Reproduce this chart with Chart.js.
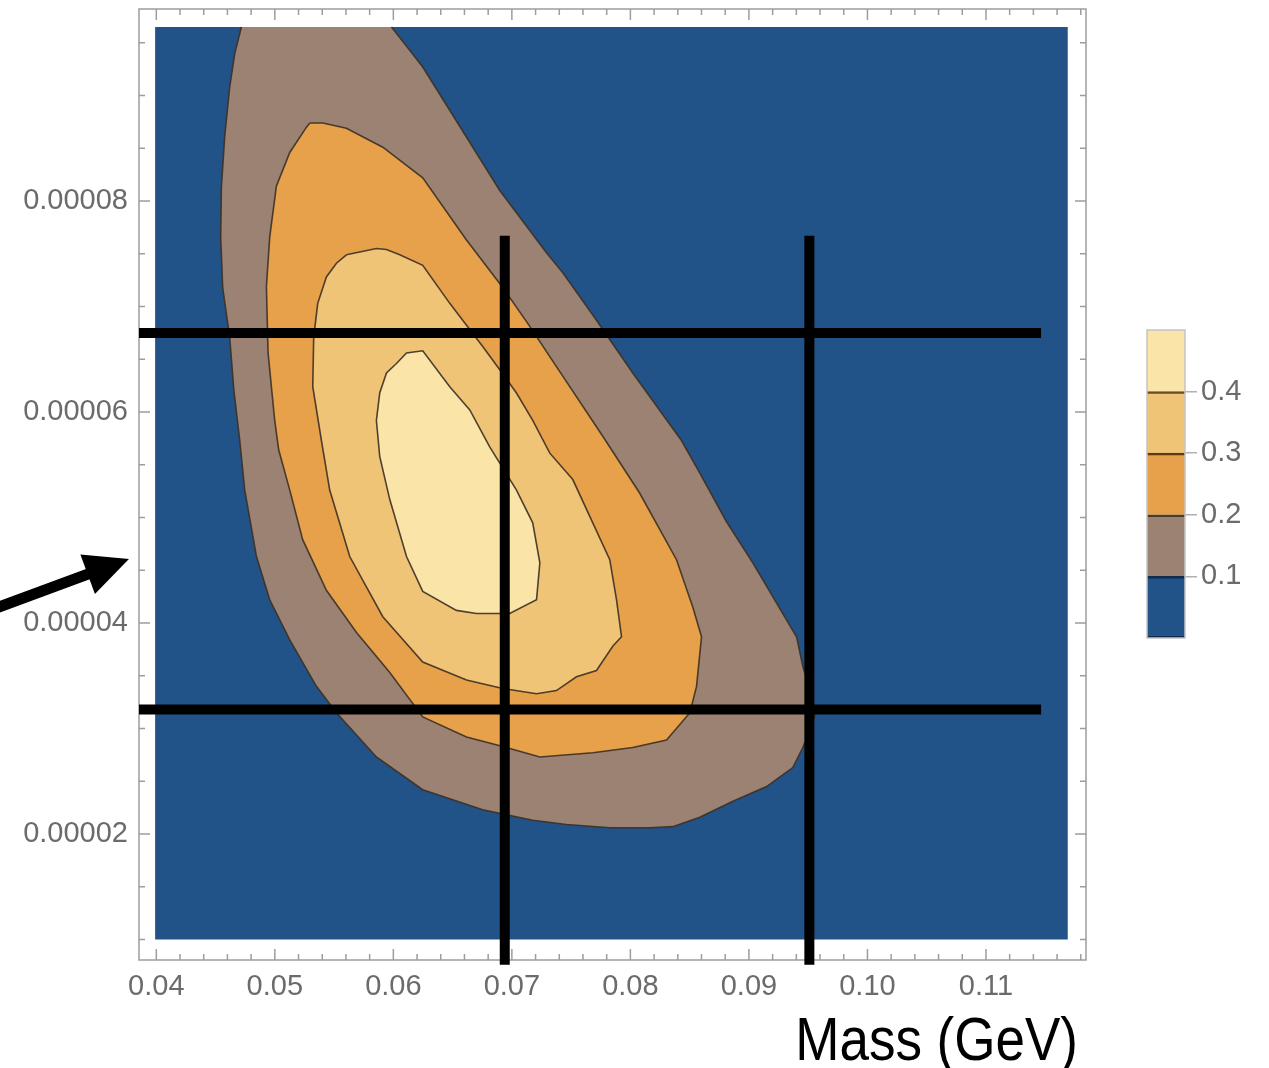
<!DOCTYPE html>
<html>
<head>
<meta charset="utf-8">
<script src="https://cdn.jsdelivr.net/npm/chart.js@4.4.1/dist/chart.umd.min.js"></script>
<style>
  html, body { margin: 0; padding: 0; background: #fff; }
  #wrap { position: relative; width: 1269px; height: 1068px; overflow: hidden; }
  #contourChart { position: absolute; left: 0; top: 0; }
  #colorBar { position: absolute; left: 1140px; top: 320px; }
</style>
</head>
<body>
<div id="wrap">
  <canvas id="contourChart" width="1269" height="1068"></canvas>
  <canvas id="colorBar" width="129" height="330"></canvas>
</div>
<script>
(function () {
    "use strict";

    // axes
    const xRange = [0.03854, 0.11844];
    const yRange = [0.00000806, 0.0000982];
    const xTicks = [0.04, 0.05, 0.06, 0.07, 0.08, 0.09, 0.10, 0.11];
    const xTickLabels = ["0.04", "0.05", "0.06", "0.07", "0.08", "0.09", "0.10", "0.11"];
    const yTicks = [0.00002, 0.00004, 0.00006, 0.00008];
    const yTickLabels = ["0.00002", "0.00004", "0.00006", "0.00008"];
    const xMinorStep = 0.002;
    const yMinorStep = 0.000005;

    // sampled region (band below 0.1)
    const regionX = [0.0399, 0.1169];
    const regionY = [0.00001, 0.0000965];

    // contour 0.1 (runs off the top of the region)
    const c1X = [0.04718, 0.04662, 0.04619, 0.04577, 0.04549, 0.04543, 0.04560, 0.04619, 0.04654, 0.04704, 0.04746, 0.04845,
        0.04957, 0.05126, 0.05351, 0.05520, 0.05857, 0.06248, 0.06754, 0.07176, 0.07461, 0.07826, 0.08164, 0.08358, 0.08586,
        0.08865, 0.09149, 0.09370, 0.09455, 0.09556, 0.09539, 0.09455, 0.09402, 0.09317, 0.09033, 0.08811, 0.08586, 0.08431,
        0.08020, 0.07714, 0.07430, 0.07292, 0.06898, 0.06248, 0.06054, 0.05984];
    const c1Y = [9.65e-5, 9.40e-5, 9.08e-5, 8.61e-5, 8.13e-5, 7.66e-5, 7.18e-5, 6.71e-5, 6.21e-5, 5.73e-5, 5.26e-5, 4.63e-5,
        4.22e-5, 3.84e-5, 3.40e-5, 3.15e-5, 2.73e-5, 2.42e-5, 2.23e-5, 2.13e-5, 2.09e-5, 2.06e-5, 2.06e-5, 2.07e-5, 2.16e-5,
        2.31e-5, 2.45e-5, 2.63e-5, 2.82e-5, 3.11e-5, 3.27e-5, 3.59e-5, 3.87e-5, 4.03e-5, 4.57e-5, 4.96e-5, 5.42e-5, 5.73e-5,
        6.37e-5, 6.87e-5, 7.32e-5, 7.51e-5, 8.10e-5, 9.27e-5, 9.55e-5, 9.65e-5];

    // contour 0.2
    const c2X = [0.05295, 0.05405, 0.05604, 0.05911, 0.06248, 0.06617, 0.06923, 0.07134, 0.07376, 0.07767, 0.08079, 0.08389,
        0.08527, 0.08600, 0.08558, 0.08502, 0.08305, 0.08020, 0.07683, 0.07236, 0.06923, 0.06617, 0.06248, 0.05970, 0.05689,
        0.05435, 0.05235, 0.05126, 0.05033, 0.04999, 0.04943, 0.04929, 0.04957, 0.05013, 0.05126, 0.05267];
    const c2Y = [8.74e-5, 8.74e-5, 8.69e-5, 8.51e-5, 8.22e-5, 7.63e-5, 7.18e-5, 6.84e-5, 6.43e-5, 5.77e-5, 5.23e-5, 4.60e-5,
        4.15e-5, 3.87e-5, 3.40e-5, 3.15e-5, 2.89e-5, 2.82e-5, 2.77e-5, 2.73e-5, 2.83e-5, 2.92e-5, 3.11e-5, 3.53e-5, 3.91e-5,
        4.31e-5, 4.79e-5, 5.26e-5, 5.64e-5, 5.92e-5, 6.56e-5, 7.19e-5, 7.66e-5, 8.14e-5, 8.46e-5, 8.70e-5];

    // contour 0.3
    const c3X = [0.05604, 0.05857, 0.05942, 0.06054, 0.06248, 0.06476, 0.06754, 0.06898, 0.07039, 0.07176, 0.07320, 0.07514,
        0.07826, 0.07883, 0.07925, 0.07851, 0.07714, 0.07545, 0.07376, 0.07208, 0.06923, 0.06617, 0.06248, 0.05911, 0.05632,
        0.05463, 0.05393, 0.05320, 0.05328, 0.05362, 0.05435, 0.05520];
    const c3Y = [7.49e-5, 7.55e-5, 7.54e-5, 7.49e-5, 7.39e-5, 7.03e-5, 6.62e-5, 6.40e-5, 6.18e-5, 5.92e-5, 5.61e-5, 5.36e-5,
        4.60e-5, 4.22e-5, 3.87e-5, 3.78e-5, 3.55e-5, 3.49e-5, 3.36e-5, 3.33e-5, 3.38e-5, 3.46e-5, 3.63e-5, 4.06e-5, 4.63e-5,
        5.26e-5, 5.73e-5, 6.24e-5, 6.71e-5, 7.03e-5, 7.28e-5, 7.41e-5];

    // contour 0.4
    const c4X = [0.06026, 0.06111, 0.06248, 0.06476, 0.06645, 0.06813, 0.07039, 0.07176, 0.07236, 0.07208, 0.06982, 0.06701,
        0.06532, 0.06248, 0.06111, 0.05970, 0.05885, 0.05857, 0.05885, 0.05942];
    const c4Y = [6.46e-5, 6.56e-5, 6.58e-5, 6.24e-5, 6.02e-5, 5.67e-5, 5.26e-5, 4.95e-5, 4.57e-5, 4.22e-5, 4.09e-5, 4.09e-5,
        4.12e-5, 4.30e-5, 4.63e-5, 5.17e-5, 5.58e-5, 5.92e-5, 6.18e-5, 6.37e-5];

    // colour bar
    const bandEdges = [0, 0.1, 0.2, 0.3, 0.4, 0.5];
    const levels = [0.1, 0.2, 0.3, 0.4];
    const levelLabels = ["0.1", "0.2", "0.3", "0.4"];
    const bandColors = ["#215389", "#9b8272", "#e6a14a", "#f0c476", "#fae4a8"];
    const bandLineColors = ["#0f2b4d", "#4b3b2c", "#5c3c14", "#6a4c22", "#c8c8c8"];

    // black cut lines
    const cutX = [0.0694, 0.0951];
    const cutXSpan = [0.0000076, 0.0000767];
    const cutY = [0.0000675, 0.0000318];
    const cutYSpan = [0.03854, 0.11465];

    // arrow (tail, tip)
    const arrowX = [0.0262, 0.03769];
    const arrowY = [0.0000413, 0.00004607];

    const tickColor = "#6b6b6b";
    const frameColor = "#9d9d9d";
    const lineColor = "rgba(60, 48, 36, 0.9)";
    const labelFont = {family: "'Liberation Sans', Arial, Helvetica, sans-serif", size: 29};

    function pts(xs, ys, close) {
        var p = xs.map(function (x, i) { return {x: x, y: ys[i]}; });
        if (close) p.push(p[0]);
        return p;
    }

    function noEdgePadding(s) {
        s.paddingTop = 0;
        s.paddingBottom = 0;
        s.paddingLeft = 0;
        s.paddingRight = 0;
    }

    var datasets = [
        {
            data: pts([regionX[0], regionX[1], regionX[1], regionX[0]], [regionY[0], regionY[0], regionY[1], regionY[1]], true),
            backgroundColor: bandColors[0], fill: "shape", borderWidth: 0, order: 6
        },
        {data: pts(c1X, c1Y, false), backgroundColor: bandColors[1], fill: "shape", borderColor: lineColor, borderWidth: 1.6, order: 5},
        {data: pts(c2X, c2Y, true), backgroundColor: bandColors[2], fill: "shape", borderColor: lineColor, borderWidth: 1.6, order: 4},
        {data: pts(c3X, c3Y, true), backgroundColor: bandColors[3], fill: "shape", borderColor: lineColor, borderWidth: 1.6, order: 3},
        {data: pts(c4X, c4Y, true), backgroundColor: bandColors[4], fill: "shape", borderColor: lineColor, borderWidth: 1.6, order: 2}
    ];
    cutX.forEach(function (v) {
        datasets.push({data: pts([v, v], cutXSpan, false), borderColor: "#000", borderWidth: 10, fill: false, clip: false, order: 1});
    });
    cutY.forEach(function (v) {
        datasets.push({data: pts(cutYSpan, [v, v], false), borderColor: "#000", borderWidth: 10, fill: false, clip: false, order: 1});
    });

    // frame with inward ticks on all four sides
    const framePlugin = {
        id: "frame",
        beforeDatasetsDraw: function (chart) {
            var ctx = chart.ctx, a = chart.chartArea, x = chart.scales.x, y = chart.scales.y;
            ctx.save();
            ctx.strokeStyle = frameColor;
            ctx.lineWidth = 1.5;
            ctx.strokeRect(a.left, a.top, a.right - a.left, a.bottom - a.top);
            ctx.beginPath();
            for (var k = 1; k * xMinorStep <= xRange[1]; k++) {
                var xv = k * xMinorStep;
                if (xv < xRange[0]) continue;
                var px = x.getPixelForValue(xv), len = (k % 5 === 0) ? 11 : 6;
                ctx.moveTo(px, a.bottom); ctx.lineTo(px, a.bottom - len);
                ctx.moveTo(px, a.top); ctx.lineTo(px, a.top + len);
            }
            for (var j = 1; j * yMinorStep <= yRange[1]; j++) {
                var yv = j * yMinorStep;
                if (yv < yRange[0]) continue;
                var py = y.getPixelForValue(yv), ylen = (j % 4 === 0) ? 11 : 6;
                ctx.moveTo(a.left, py); ctx.lineTo(a.left + ylen, py);
                ctx.moveTo(a.right, py); ctx.lineTo(a.right - ylen, py);
            }
            ctx.stroke();
            ctx.restore();
        },
        afterDraw: function (chart) {
            var ctx = chart.ctx, x = chart.scales.x, y = chart.scales.y, a = chart.chartArea;
            // arrow
            var tx = x.getPixelForValue(arrowX[0]), ty = y.getPixelForValue(arrowY[0]);
            var hx = x.getPixelForValue(arrowX[1]), hy = y.getPixelForValue(arrowY[1]);
            var ang = Math.atan2(hy - ty, hx - tx);
            var headLen = 44, headHalf = 21;
            var bx = hx - headLen * Math.cos(ang), by = hy - headLen * Math.sin(ang);
            ctx.save();
            ctx.strokeStyle = "#000";
            ctx.fillStyle = "#000";
            ctx.lineWidth = 11;
            ctx.beginPath();
            ctx.moveTo(tx, ty);
            ctx.lineTo(bx + 6 * Math.cos(ang), by + 6 * Math.sin(ang));
            ctx.stroke();
            ctx.beginPath();
            ctx.moveTo(hx, hy);
            ctx.lineTo(bx - headHalf * Math.sin(ang), by + headHalf * Math.cos(ang));
            ctx.lineTo(bx + headHalf * Math.sin(ang), by - headHalf * Math.cos(ang));
            ctx.closePath();
            ctx.fill();
            ctx.restore();
            // axis title, narrow face
            ctx.save();
            ctx.translate(a.right - 8, a.bottom + 100);
            ctx.scale(0.855, 1);
            ctx.font = "62px 'Liberation Sans', Arial, Helvetica, sans-serif";
            ctx.fillStyle = "#000";
            ctx.textAlign = "right";
            ctx.textBaseline = "alphabetic";
            ctx.fillText("Mass (GeV)", 0, 0);
            ctx.restore();
        }
    };

    new Chart(document.getElementById("contourChart"), {
        type: "line",
        data: {datasets: datasets},
        options: {
            responsive: false,
            animation: false,
            events: [],
            layout: {padding: {top: 9, right: 183, left: 0, bottom: 0}},
            elements: {point: {radius: 0}, line: {tension: 0, borderCapStyle: "butt"}},
            plugins: {legend: {display: false}, tooltip: {enabled: false}},
            scales: {
                x: {
                    type: "linear",
                    min: xRange[0],
                    max: xRange[1],
                    afterBuildTicks: function (s) { s.ticks = xTicks.map(function (v) { return {value: v}; }); },
                    afterFit: function (s) { s.height = 108; noEdgePadding(s); },
                    grid: {display: false, drawTicks: false},
                    border: {display: false},
                    ticks: {
                        padding: 10, color: tickColor, font: labelFont, maxRotation: 0, autoSkip: false,
                        callback: function (v, i) { return xTickLabels[i]; }
                    }
                },
                y: {
                    type: "linear",
                    min: yRange[0],
                    max: yRange[1],
                    afterBuildTicks: function (s) { s.ticks = yTicks.map(function (v) { return {value: v}; }); },
                    afterFit: function (s) { s.width = 139; noEdgePadding(s); },
                    grid: {display: false, drawTicks: false},
                    border: {display: false},
                    ticks: {
                        padding: 11, color: tickColor, font: labelFont, autoSkip: false,
                        callback: function (v, i) { return yTickLabels[i]; }
                    }
                }
            }
        },
        plugins: [framePlugin]
    });

    // colour bar legend
    const outlinePlugin = {
        id: "outline",
        afterDatasetsDraw: function (chart) {
            var ctx = chart.ctx, a = chart.chartArea;
            ctx.save();
            ctx.strokeStyle = "#c4c4c4";
            ctx.lineWidth = 1.5;
            ctx.strokeRect(a.left, a.top, a.right - a.left, a.bottom - a.top);
            ctx.restore();
        }
    };

    new Chart(document.getElementById("colorBar"), {
        type: "bar",
        data: {
            labels: [""],
            datasets: bandColors.map(function (c, i) {
                return {
                    data: [[bandEdges[i], bandEdges[i + 1]]],
                    backgroundColor: c,
                    borderColor: bandLineColors[i],
                    borderWidth: i === 0 ? {top: 2.5, bottom: 2.5} : (i < 4 ? {top: 2.5} : 0),
                    borderSkipped: false,
                    grouped: false,
                    barPercentage: 1,
                    categoryPercentage: 1
                };
            })
        },
        options: {
            responsive: false,
            animation: false,
            events: [],
            layout: {padding: {left: 7, top: 10, bottom: 12, right: 0}},
            plugins: {legend: {display: false}, tooltip: {enabled: false}},
            scales: {
                x: {display: false},
                y: {
                    position: "right",
                    min: 0,
                    max: 0.5,
                    afterBuildTicks: function (s) { s.ticks = levels.map(function (v) { return {value: v}; }); },
                    afterFit: function (s) { s.width = 84; noEdgePadding(s); },
                    grid: {drawOnChartArea: false, drawTicks: true, tickLength: 12, color: "#b0b0b0", lineWidth: 1.5},
                    border: {display: false},
                    ticks: {
                        padding: 4, color: tickColor, font: labelFont,
                        callback: function (v, i) { return levelLabels[i]; }
                    }
                }
            }
        },
        plugins: [outlinePlugin]
    });
})();
</script>
</body>
</html>
